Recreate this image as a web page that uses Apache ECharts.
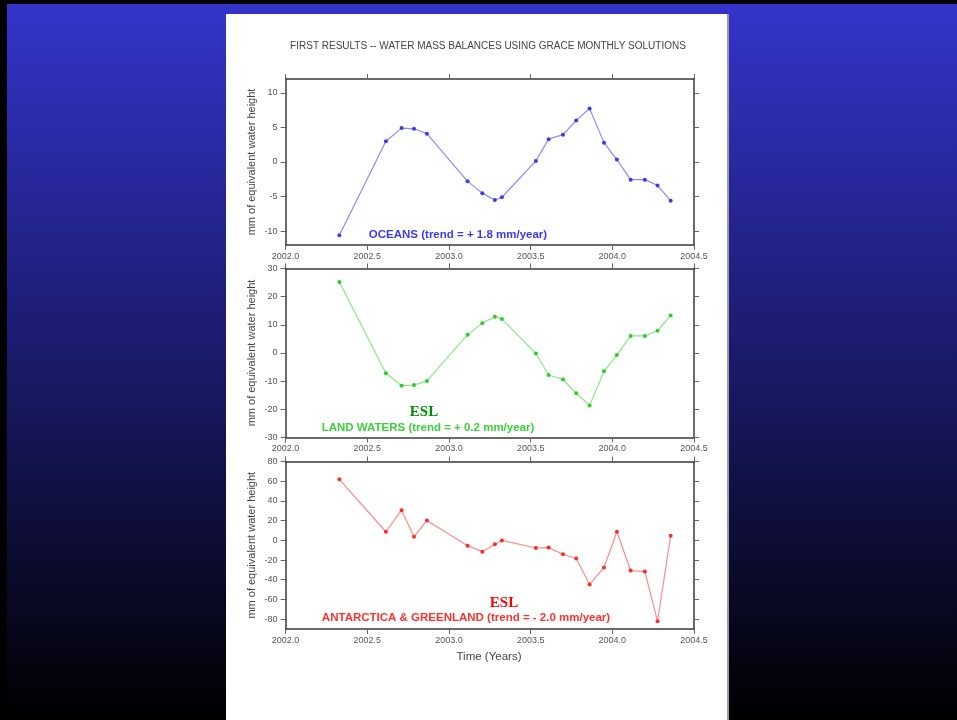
<!DOCTYPE html>
<html>
<head>
<meta charset="utf-8">
<script src="https://cdn.jsdelivr.net/npm/echarts@6/dist/echarts.min.js"></script>
<style>
html,body{margin:0;padding:0;background:#000;}
#c{width:957px;height:720px;}
</style>
</head>
<body>
<div id="c"></div>
<script>
// ---- data ----
const dates = [2002.329, 2002.614, 2002.710, 2002.786, 2002.865, 2003.114, 2003.204, 2003.281, 2003.324, 2003.532,
               2003.610, 2003.698, 2003.779, 2003.861, 2003.949, 2004.028, 2004.112, 2004.199, 2004.277, 2004.357];
const oceans = [-10.6, 3.0, 4.9, 4.8, 4.1, -2.8, -4.5, -5.5, -5.1, 0.15, 3.3, 3.95, 6.0, 7.75, 2.8, 0.35, -2.55, -2.55, -3.4, -5.6];
const landWaters = [25.2, -7.2, -11.6, -11.4, -9.9, 6.5, 10.6, 12.9, 12.1, -0.2, -7.8, -9.4, -14.3, -18.6, -6.5, -0.7, 6.05, 6.05, 7.9, 13.3];
const antarcticaGreenland = [61.9, 8.7, 30.6, 3.6, 20.2, -5.4, -11.5, -4.0, -0.1, -7.8, -7.4, -14.1, -18.5, -44.8, -27.6, 8.7, -30.7, -31.7, -82.1, 4.6];
const xTicks = [2002.0, 2002.5, 2003.0, 2003.5, 2004.0, 2004.5];
const yTicks1 = [-10, -5, 0, 5, 10];
const yTicks2 = [-30, -20, -10, 0, 10, 20, 30];
const yTicks3 = [-80, -60, -40, -20, 0, 20, 40, 60, 80];
const titleText = 'FIRST RESULTS -- WATER MASS BALANCES USING GRACE MONTHLY SOLUTIONS';
const yName = 'mm of equivalent water height';
const xName = 'Time (Years)';
const label1 = 'OCEANS (trend = + 1.8 mm/year)';
const label2 = 'LAND WATERS (trend = + 0.2 mm/year)';
const label3 = 'ANTARCTICA & GREENLAND (trend = - 2.0 mm/year)';

const pair = arr => dates.map((d, i) => [d, arr[i]]);

const grids = [
  {left: 285.6, width: 408.4, top: 79, height: 166},
  {left: 285.6, width: 408.4, top: 268.5, height: 169},
  {left: 285.6, width: 408.4, top: 461.5, height: 167.5}
];
const yRanges = [[-12, 12, yTicks1], [-30, 30, yTicks2], [-90, 80, yTicks3]];

const axisLineStyle = {color: '#3a3a3a', width: 1.5};
const tickStyle = {color: '#666', width: 1};
const xAxes = [], yAxes = [];
grids.forEach((g, i) => {
  ['bottom', 'top'].forEach(pos => {
    xAxes.push({
      gridIndex: i, type: 'value', min: 2002, max: 2004.5, interval: 0.5, position: pos,
      axisLine: {show: true, onZero: false, lineStyle: axisLineStyle},
      axisTick: {show: true, length: 5, lineStyle: tickStyle},
      axisLabel: {show: pos === 'bottom', formatter: v => v.toFixed(1), fontSize: 9, color: '#555',
                  margin: 7, fontFamily: 'Liberation Sans', customValues: xTicks},
      splitLine: {show: false}
    });
  });
  const r = yRanges[i];
  ['left', 'right'].forEach(pos => {
    yAxes.push({
      gridIndex: i, type: 'value', min: r[0], max: r[1], position: pos,
      axisLine: {show: true, onZero: false, lineStyle: axisLineStyle},
      axisTick: {show: true, length: 5, lineStyle: tickStyle, customValues: r[2]},
      axisLabel: {show: pos === 'left', fontSize: 9, color: '#555', margin: 8,
                  fontFamily: 'Liberation Sans', customValues: r[2]},
      splitLine: {show: false},
      name: pos === 'left' ? yName : '',
      nameLocation: 'middle', nameRotate: 90, nameGap: 28,
      nameTextStyle: {fontSize: 11, color: '#444', fontFamily: 'Liberation Sans'}
    });
  });
});

function lineSeries(idx, data, lineColor, dotColor) {
  return {
    type: 'line', xAxisIndex: idx * 2, yAxisIndex: idx * 2, data: pair(data),
    symbol: 'circle', symbolSize: 4, showSymbol: true,
    lineStyle: {color: lineColor, width: 1.2},
    itemStyle: {color: dotColor},
    animation: false, z: 5
  };
}

const chart = echarts.init(document.getElementById('c'), null, {renderer: 'canvas'});
chart.setOption({
  backgroundColor: 'transparent',
  animation: false,
  grid: grids,
  xAxis: xAxes,
  yAxis: yAxes,
  series: [
    lineSeries(0, oceans, '#8a8aff', '#3a3af0'),
    lineSeries(1, landWaters, '#8ae88a', '#2ccc2c'),
    lineSeries(2, antarcticaGreenland, '#ff8a8a', '#ff2a2a')
  ],
  graphic: [
    {type: 'rect', z: -100, shape: {x: 0, y: 0, width: 957, height: 720},
     style: {fill: new echarts.graphic.LinearGradient(0, 0, 0, 1, [
       {offset: 0, color: '#3434cc'}, {offset: 0.5, color: '#1a1a6a'}, {offset: 1, color: '#000000'}])}},
    {type: 'rect', z: -99, shape: {x: 0, y: 0, width: 957, height: 4}, style: {fill: '#000'}},
    {type: 'rect', z: -99, shape: {x: 0, y: 0, width: 7, height: 720}, style: {fill: '#000'}},
    {type: 'rect', z: -98, shape: {x: 226, y: 14, width: 501, height: 706}, style: {fill: '#ffffff'}},
    {type: 'rect', z: -98, shape: {x: 727, y: 14, width: 2, height: 706}, style: {fill: '#9a9aa8'}},
    {type: 'text', z: 100, style: {text: titleText, x: 488, y: 46, align: 'center', verticalAlign: 'middle',
      fontSize: 10, fill: '#444', fontFamily: 'Liberation Sans'}},
    {type: 'text', z: 100, style: {text: label1, x: 458, y: 235, align: 'center', verticalAlign: 'middle',
      fontSize: 11.5, fontWeight: 'bold', fill: '#3a3af5', fontFamily: 'Liberation Sans'}},
    {type: 'text', z: 100, style: {text: 'ESL', x: 424, y: 412, align: 'center', verticalAlign: 'middle',
      fontSize: 15, fontWeight: 'bold', fill: '#008a00', fontFamily: 'Liberation Serif'}},
    {type: 'text', z: 100, style: {text: label2, x: 428, y: 428, align: 'center', verticalAlign: 'middle',
      fontSize: 11.5, fontWeight: 'bold', fill: '#3ad03a', fontFamily: 'Liberation Sans'}},
    {type: 'text', z: 100, style: {text: 'ESL', x: 504, y: 603, align: 'center', verticalAlign: 'middle',
      fontSize: 15, fontWeight: 'bold', fill: '#ff0000', fontFamily: 'Liberation Serif'}},
    {type: 'text', z: 100, style: {text: label3, x: 466, y: 618, align: 'center', verticalAlign: 'middle',
      fontSize: 11.5, fontWeight: 'bold', fill: '#ff3030', fontFamily: 'Liberation Sans'}},
    {type: 'text', z: 100, style: {text: xName, x: 489, y: 657, align: 'center', verticalAlign: 'middle',
      fontSize: 11.5, fill: '#444', fontFamily: 'Liberation Sans'}}
  ]
});
</script>
</body>
</html>
